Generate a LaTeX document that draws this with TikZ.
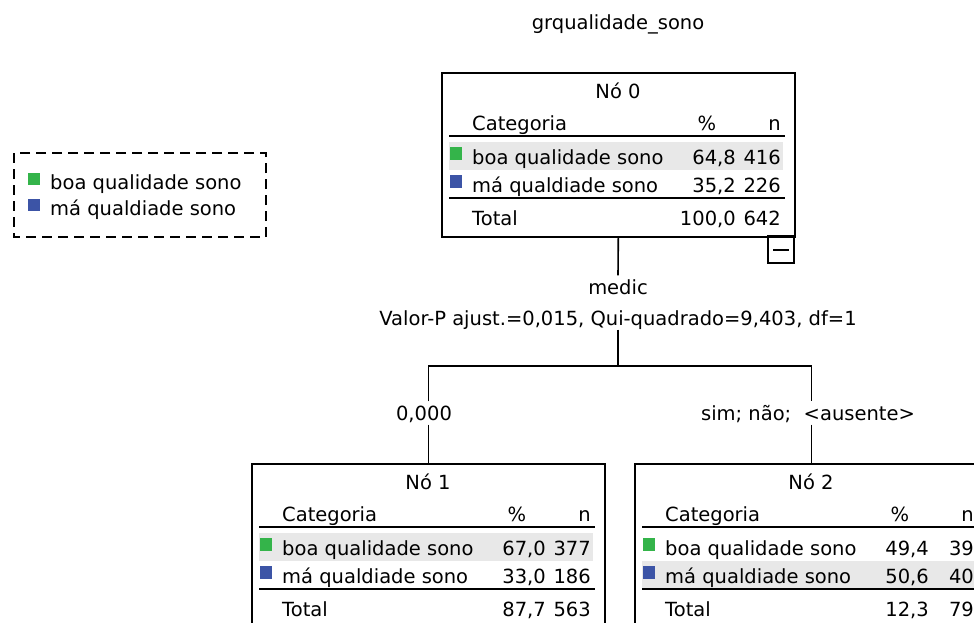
\documentclass[tikz,border=0pt]{standalone}
\usepackage{xcolor}
\usepackage{tikz}
\usepackage{fontspec}
\setmainfont{DejaVu Sans}

\definecolor{boagreen}{RGB}{52,180,74}
\definecolor{mablue}{RGB}{60,84,166}
\definecolor{bandgray}{RGB}{232,232,232}

\tikzset{
  treebox/.style={draw, line width=1.6pt, minimum width=353pt, minimum height=164pt, inner sep=0pt, anchor=north west},
  cell/.style={inner sep=0pt, text height=17pt, text depth=2pt},
  lbl/.style={inner sep=2pt, text height=17pt, text depth=2pt},
  rule/.style={line width=1.6pt},
  link/.style={line width=1.6pt},
}

\newcommand{\treenode}[9]{%
  \fill[bandgray] (8,#2) rectangle (342,#2+28);
  \node[treebox] (#1) at (0,0) {};
  \node[cell] at (177,19) {#3};
  \node[cell, anchor=west] at (31,51) {Categoria};
  \node[cell] at (266,51) {\%};
  \node[cell, anchor=east] at (340,51) {n};
  \draw[rule] (8,64) -- (344,64);
  \fill[boagreen] (9,75) rectangle (21,88);
  \node[cell, anchor=west] at (31,85) {boa qualidade sono};
  \node[cell, anchor=east] at (295,85) {#4};
  \node[cell, anchor=east] at (340,85) {#5};
  \fill[mablue] (9,103) rectangle (21,116);
  \node[cell, anchor=west] at (31,113) {má qualdiade sono};
  \node[cell, anchor=east] at (295,113) {#6};
  \node[cell, anchor=east] at (340,113) {#7};
  \draw[rule] (8,126) -- (344,126);
  \node[cell, anchor=west] at (31,146) {Total};
  \node[cell, anchor=east] at (295,146) {#8};
  \node[cell, anchor=east] at (340,146) {#9};
}

\begin{document}
\begin{tikzpicture}[x=1pt, y=-1pt, font=\fontsize{19.5}{23}\selectfont]
\useasboundingbox (0,0) rectangle (974,622);
\clip (0,0) rectangle (974,622);

\node[lbl] (title) at (618,22) {grqualidade\_sono};

\draw[rule, dash pattern=on 10pt off 6pt] (14,153) rectangle (266,237);
\fill[boagreen] (28,173) rectangle (40,185);
\node[cell, anchor=west] (legboa) at (50,182) {boa qualidade sono};
\fill[mablue] (28,199) rectangle (40,211);
\node[cell, anchor=west] (legma) at (50,208) {má qualdiade sono};

\begin{scope}[shift={(441,72)}]
  \treenode{n0}{70}{Nó 0}{64,8}{416}{35,2}{226}{100,0}{642}
  \draw[rule] (327,164) rectangle (353,191);
  \draw[rule] (332,178) -- (348,178);
\end{scope}

\begin{scope}[shift={(251,463)}]
  \treenode{n1}{70}{Nó 1}{67,0}{377}{33,0}{186}{87,7}{563}
\end{scope}

\begin{scope}[shift={(634,463)}]
  \treenode{n2}{98}{Nó 2}{49,4}{39}{50,6}{40}{12,3}{79}
\end{scope}

\node[lbl] (var) at (618,287) {medic};
\node[lbl] (stat) at (618,318) {Valor-P ajust.=0,015, Qui-quadrado=9,403, df=1};
\node[lbl] (lab1) at (424,413) {0,000};
\node[lbl] (lab2) at (808,413) {sim; não;\ \ <ausente>};
\coordinate (bar) at (618,366);

\draw[link] (n0.south) -- (var.north);
\draw[link] (stat.south) -- (stat.south |- bar);
\draw[link] (n1.north |- lab1.north) |- (bar) -| (n2.north |- lab2.north);
\draw[link] (n1.north |- lab1.south) -- (n1.north);
\draw[link] (n2.north |- lab2.south) -- (n2.north);
\end{tikzpicture}
\end{document}
